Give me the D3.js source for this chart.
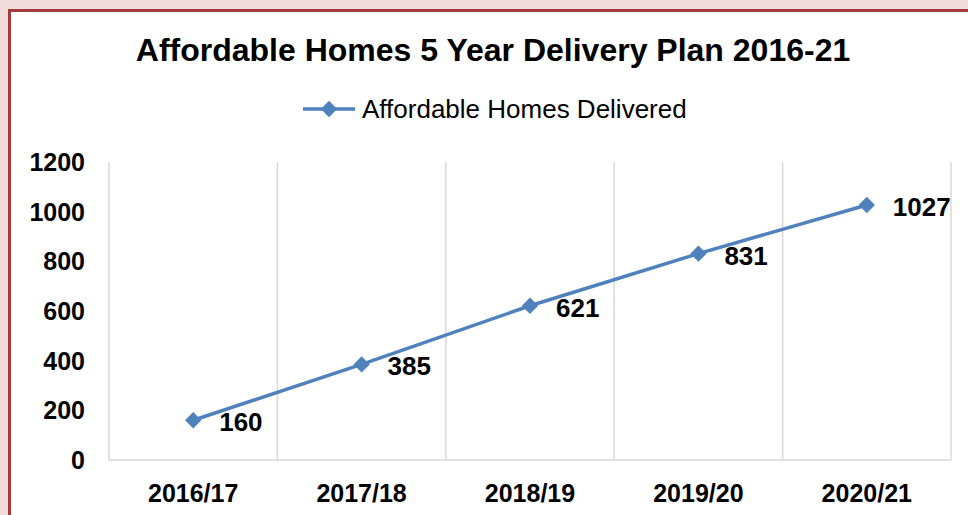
<!DOCTYPE html>
<html lang="en">
<head>
<meta charset="UTF-8">
<title>Affordable Homes 5 Year Delivery Plan</title>
<script src="https://cdn.jsdelivr.net/npm/d3@7"></script>
<style>
  body { margin: 0; background: #f2dcdb; }
  svg { display: block; font-family: "Liberation Sans", Arial, sans-serif; }
</style>
</head>
<body>
<div id="chart"></div>
<script>
const years = ["2016/17", "2017/18", "2018/19", "2019/20", "2020/21"];
const delivered = [160, 385, 621, 831, 1027];
const yTicks = [0, 200, 400, 600, 800, 1000, 1200];
const seriesName = "Affordable Homes Delivered";

const W = 968, H = 515;
const blue = "#4f81bd";
const plot = { left: 109, right: 951, top: 162, bottom: 460 };

const svg = d3.select("#chart").append("svg")
  .attr("width", W)
  .attr("height", H);

// panel with red frame
svg.append("rect")
  .attr("x", 9.5).attr("y", 10.5)
  .attr("width", W + 20).attr("height", H + 20)
  .attr("fill", "#fff")
  .attr("stroke", "#a33b3e")
  .attr("stroke-width", 3);

const x = d3.scaleBand().domain(years).range([plot.left, plot.right]);
const y = d3.scaleLinear().domain([0, 1200]).range([plot.bottom, plot.top]);

// vertical gridlines at category edges
const edges = years.map(d => x(d)).concat([plot.right]);
svg.selectAll("line.grid")
  .data(edges)
  .enter().append("line")
  .attr("class", "grid")
  .attr("x1", d => d).attr("x2", d => d)
  .attr("y1", plot.top).attr("y2", plot.bottom)
  .attr("stroke", "#d9d9d9")
  .attr("stroke-width", 1.5);

svg.append("line")
  .attr("x1", plot.left).attr("x2", plot.right)
  .attr("y1", plot.bottom).attr("y2", plot.bottom)
  .attr("stroke", "#d9d9d9")
  .attr("stroke-width", 1.5);

// y labels
svg.selectAll("text.ytick")
  .data(yTicks)
  .enter().append("text")
  .attr("class", "ytick")
  .attr("x", 85)
  .attr("y", d => y(d) + 9)
  .attr("text-anchor", "end")
  .attr("font-size", 25)
  .attr("font-weight", "bold")
  .text(d => d);

// x labels
svg.selectAll("text.xtick")
  .data(years)
  .enter().append("text")
  .attr("class", "xtick")
  .attr("x", d => x(d) + x.bandwidth() / 2)
  .attr("y", 502)
  .attr("text-anchor", "middle")
  .attr("font-size", 25)
  .attr("font-weight", "bold")
  .text(d => d);

// line
const cx = (d, i) => x(years[i]) + x.bandwidth() / 2;
svg.append("path")
  .datum(delivered)
  .attr("fill", "none")
  .attr("stroke", blue)
  .attr("stroke-width", 3.5)
  .attr("d", d3.line().x(cx).y(d => y(d)));

const diamond = d3.symbol().type(d3.symbolDiamond2).size(170);
svg.selectAll("path.pt")
  .data(delivered)
  .enter().append("path")
  .attr("class", "pt")
  .attr("transform", (d, i) => `translate(${cx(d, i)},${y(d)})`)
  .attr("d", diamond)
  .attr("fill", blue);

svg.selectAll("text.val")
  .data(delivered)
  .enter().append("text")
  .attr("class", "val")
  .attr("x", (d, i) => cx(d, i) + 26)
  .attr("y", d => y(d) + 11)
  .attr("font-size", 26)
  .attr("font-weight", "bold")
  .text(d => d);

// title
svg.append("text")
  .attr("x", 493).attr("y", 61)
  .attr("text-anchor", "middle")
  .attr("font-size", 32)
  .attr("font-weight", "bold")
  .text("Affordable Homes 5 Year Delivery Plan 2016-21");

// legend
svg.append("line")
  .attr("x1", 303).attr("x2", 355)
  .attr("y1", 109).attr("y2", 109)
  .attr("stroke", blue).attr("stroke-width", 3.5);
svg.append("path")
  .attr("transform", "translate(329,109)")
  .attr("d", diamond)
  .attr("fill", blue);
svg.append("text")
  .attr("x", 362).attr("y", 118)
  .attr("font-size", 26)
  .text(seriesName);
</script>
</body>
</html>
